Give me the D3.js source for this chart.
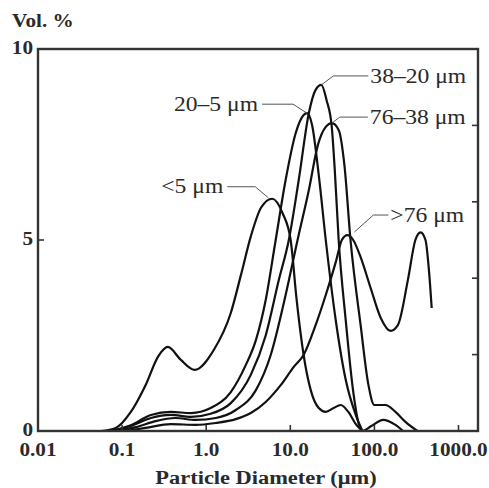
<!DOCTYPE html>
<html>
<head>
<meta charset="utf-8">
<script src="https://cdn.jsdelivr.net/npm/d3@7"></script>
<style>
  body { margin: 0; background: #fff; }
</style>
</head>
<body>
<div class="chart-holder"></div>
<script>
// Volume distributions, [particle diameter (um), vol %]
const lt5 = [
  [0.056, 0], [0.084, 0.08], [0.127, 0.5], [0.19, 1.2], [0.27, 1.96], [0.35, 2.2],
  [0.5, 1.86], [0.73, 1.6], [1.23, 2.12], [1.96, 3.09], [2.6, 4.1], [3.4, 5.1],
  [4.5, 5.85], [6.1, 6.08], [8.1, 5.7], [10.1, 5.0], [11.9, 3.43], [14.4, 1.99],
  [17.5, 1.07], [21.8, 0.6], [26.4, 0.5], [32.7, 0.6], [39.7, 0.68], [49, 0.5],
  [61, 0.16], [72, 0]
];
const r20to5 = [
  [0.074, 0], [0.127, 0.15], [0.22, 0.42], [0.38, 0.5], [0.66, 0.47], [1.13, 0.6],
  [1.96, 1.02], [2.96, 1.73], [3.9, 2.38], [5.1, 3.43], [6.7, 5.0], [8.8, 6.57],
  [11.6, 7.8], [14.4, 8.27], [15.8, 8.32], [18.2, 8.0], [21.8, 6.7], [26.4, 5.0],
  [34.7, 2.9], [45.6, 1.34], [60, 0.42], [72, 0]
];
const r38to20 = [
  [0.074, 0], [0.127, 0.13], [0.22, 0.34], [0.38, 0.42], [0.66, 0.37], [1.13, 0.45],
  [1.96, 0.73], [3.39, 1.47], [5.1, 2.5], [7.3, 3.95], [9.6, 5.0], [12.6, 6.57],
  [16.6, 8.32], [20.0, 8.93], [23.4, 9.06], [27.0, 8.66], [31.0, 8.0], [33.8, 6.83],
  [37.6, 5.0], [45.6, 2.9], [55.7, 1.07], [65.6, 0.16], [72, 0], [92, 0.13],
  [127, 0.29], [178, 0.16], [220, 0]
];
const r76to38 = [
  [0.084, 0], [0.146, 0.1], [0.25, 0.26], [0.43, 0.34], [0.75, 0.29], [1.3, 0.34],
  [2.25, 0.55], [3.9, 1.07], [5.85, 1.99], [8.8, 3.56], [12.2, 5.0], [16.6, 6.3],
  [21.3, 7.49], [26.4, 7.96], [31.2, 8.06], [37.6, 7.88], [44, 6.96], [52, 5.0],
  [68.6, 2.77], [85, 1.2], [100, 0.68], [135, 0.68], [178, 0.5], [234, 0.24], [325, 0]
];
const gt76 = [
  [0.11, 0], [0.19, 0.08], [0.38, 0.18], [0.75, 0.16], [1.3, 0.21], [2.25, 0.31],
  [3.39, 0.47], [5.1, 0.76], [7.69, 1.2], [11.0, 1.68], [14.4, 1.99], [20, 2.77],
  [26.4, 3.56], [34.7, 4.42], [41, 5.0], [47.7, 5.13], [56, 5.0], [68.6, 4.55],
  [90, 3.75], [119, 2.96], [156, 2.62], [190, 2.77], [250, 3.95], [307, 5.0],
  [354, 5.2], [405, 5.0], [445, 4.21], [480, 3.22]
];

const seriesList = [lt5, r20to5, r38to20, r76to38, gt76];
const seriesNames = ['<5 \u03bcm', '20\u20135 \u03bcm', '38\u201320 \u03bcm', '76\u201338 \u03bcm', '>76 \u03bcm'];

const xTicks = [0.01, 0.1, 1, 10, 100, 1000];
const xTickLabels = ['0.01', '0.1', '1.0', '10.0', '100.0', '1000.0'];
const yTicks = [0, 5, 10];
const yRightTicks = [2, 4, 6, 8];

// Set up dimensions
const width = 489;
const height = 488;
const margin = { top: 49, right: 11, bottom: 57, left: 38 };

const svg = d3.select('.chart-holder').append('svg')
  .attr('width', width)
  .attr('height', height);

const x = d3.scaleLog()
  .domain([0.01, 1000])
  .range([margin.left, 458.5]);

const y = d3.scaleLinear()
  .domain([0, 10])
  .range([height - margin.bottom, margin.top]);

const plotRight = width - margin.right;
const plotBottom = height - margin.bottom;

// scanned figure type is a little wider than Times, so stretch it
const stretch = 1.18;
function addText(tx, ty, str, size, bold, anchor, dy) {
  return svg.append('text')
    .attr('transform', 'translate(' + tx + ',' + ty + ') scale(' + stretch + ',1)')
    .attr('dy', dy || 0)
    .attr('text-anchor', anchor || 'start')
    .style('font-family', '"Liberation Serif", "Times New Roman", serif')
    .style('font-weight', bold ? 'bold' : 'normal')
    .style('font-size', size + 'px')
    .style('fill', '#2a2a2a')
    .text(str);
}

// Curves
const line = d3.line()
  .x(d => x(d[0]))
  .y(d => y(d[1]))
  .curve(d3.curveMonotoneX);

svg.selectAll('.curve')
  .data(seriesList)
  .enter().append('path')
  .attr('class', 'curve')
  .attr('fill', 'none')
  .attr('stroke', '#111')
  .attr('stroke-width', 2.2)
  .attr('d', line);

// Frame
svg.append('rect')
  .attr('x', margin.left)
  .attr('y', margin.top)
  .attr('width', plotRight - margin.left)
  .attr('height', plotBottom - margin.top)
  .attr('fill', 'none')
  .attr('stroke', '#333')
  .attr('stroke-width', 2.4);

// Ticks (inward)
svg.selectAll('.xtick')
  .data(xTicks.slice(1))
  .enter().append('line')
  .attr('x1', d => x(d)).attr('x2', d => x(d))
  .attr('y1', plotBottom).attr('y2', plotBottom - 6)
  .attr('stroke', '#333').attr('stroke-width', 1.6);

svg.selectAll('.ytick')
  .data(yTicks)
  .enter().append('line')
  .attr('x1', margin.left).attr('x2', margin.left + 6)
  .attr('y1', d => y(d)).attr('y2', d => y(d))
  .attr('stroke', '#333').attr('stroke-width', 1.6);

svg.selectAll('.yrtick')
  .data(yRightTicks)
  .enter().append('line')
  .attr('x1', plotRight).attr('x2', plotRight - 6)
  .attr('y1', d => y(d)).attr('y2', d => y(d))
  .attr('stroke', '#333').attr('stroke-width', 1.6);

// Tick labels
xTicks.forEach((t, i) => addText(x(t), plotBottom + 25, xTickLabels[i], 18, true, 'middle'));
yTicks.forEach(t => addText(margin.left - 5, y(t) - 1, String(t), 18, true, 'end', '0.34em'));

// Axis titles
addText(12, 27, 'Vol. %', 18, true, 'start');
addText(266, 484, 'Particle Diameter (\u03bcm)', 19, true, 'middle');

// Labels with leader lines, offsets in pixels from each curve's (first) peak
const leaders = [
  { s: 0, maxDia: 1000, ax: -4, ay: -1, ex: -17, ey: -12, tx: -45, side: 'end' },
  { s: 1, maxDia: 1000, ax: 0, ay: 0, ex: -14, ey: -9, tx: -45, side: 'end' },
  { s: 2, maxDia: 1000, ax: 0, ay: 0, ex: 12, ey: -9, tx: 47, side: 'start' },
  { s: 3, maxDia: 1000, ax: 0, ay: 0, ex: 8, ey: -6, tx: 36, side: 'start' },
  { s: 4, maxDia: 100, ax: 7, ay: -3, ex: 26, ey: -20, tx: 41, side: 'start' }
];

leaders.forEach(l => {
  const peak = seriesList[l.s].filter(d => d[0] < l.maxDia)
    .reduce((a, b) => (b[1] > a[1] ? b : a));
  const px = x(peak[0]);
  const py = y(peak[1]);
  svg.append('polyline')
    .attr('points', [[px + l.ax, py + l.ay], [px + l.ex, py + l.ey], [px + l.tx, py + l.ey]]
      .map(p => p.join(',')).join(' '))
    .attr('fill', 'none')
    .attr('stroke', '#555')
    .attr('stroke-width', 1);
  addText(l.side === 'end' ? px + l.tx - 4 : px + l.tx + 2, py + l.ey,
    seriesNames[l.s], 20, false, l.side, '0.33em');
});
</script>
</body>
</html>
